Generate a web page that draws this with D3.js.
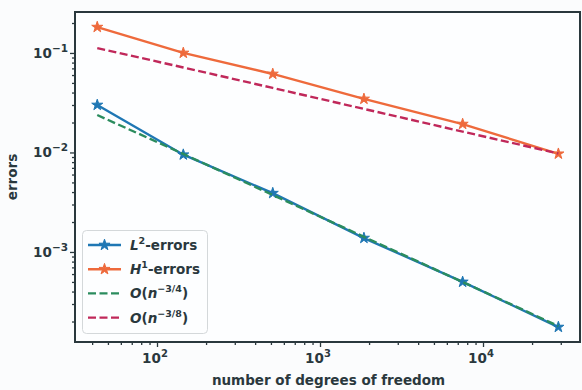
<!DOCTYPE html>
<html>
<head>
<meta charset="utf-8">
<script src="https://cdn.jsdelivr.net/npm/d3@7/dist/d3.min.js"></script>
<style>
  html, body { margin: 0; padding: 0; background: #fbfcfd; }
  svg { display: block; font-family: "DejaVu Sans", sans-serif; }
</style>
</head>
<body>
<svg id="chart" width="582" height="390"></svg>
<script>
// Degrees of freedom for each refinement level
const dofs = [43, 145, 513, 1860, 7500, 29000];

// Measured errors
const l2Errors = [0.030, 0.0095, 0.0039, 0.00138, 0.00050, 0.000176];
const h1Errors = [0.182, 0.100, 0.0615, 0.0345, 0.0193, 0.0097];

// Reference convergence rates
const rateL2 = [0.0238, 0.00966, 0.00374, 0.00142, 0.000499, 0.00018];
const rateH1 = [0.112, 0.0715, 0.0445, 0.0274, 0.0162, 0.00976];

// Tick values and labels
const xTicks = [1e2, 1e3, 1e4];
const xTickExp = ["2", "3", "4"];
const yTicks = [1e-1, 1e-2, 1e-3];
const yTickExp = ["\u22121", "\u22122", "\u22123"];

const series = [
  { name: "L2", values: l2Errors, color: "#1f77b4", dash: null, marker: true },
  { name: "H1", values: h1Errors, color: "#ee6a3c", dash: null, marker: true },
  { name: "r34", values: rateL2, color: "#2b8c5e", dash: "8,3.5", marker: false },
  { name: "r38", values: rateH1, color: "#c0285a", dash: "8,3.5", marker: false }
];

const svg = d3.select("#chart");
const pL = 75, pR = 580, pT = 12, pB = 342;

const x = d3.scaleLog().domain([31.4, 39360]).range([pL, pR]);
const y = d3.scaleLog().domain([0.258, 1.245e-4]).range([pT, pB]);

// plot background
svg.append("rect").attr("x", pL).attr("y", pT)
  .attr("width", pR - pL).attr("height", pB - pT)
  .attr("fill", "#fdfeff");

const axisColor = "#2a383d";

// minor + major ticks along x
const xMinor = [];
for (let e = 1; e <= 4; e++) for (let m = 1; m <= 9; m++) {
  const v = m * Math.pow(10, e);
  if (v >= x.domain()[0] && v <= x.domain()[1]) xMinor.push(v);
}
const xAxis = d3.axisBottom(x).tickValues(xMinor).tickSize(3).tickFormat("");
svg.append("g").attr("transform", `translate(0,${pB})`).call(xAxis)
  .call(g => g.select(".domain").remove())
  .call(g => g.selectAll("line").attr("stroke", axisColor).attr("stroke-width", 1.3)
    .attr("y2", d => xTicks.includes(d) ? 5 : 3));

const yMinor = [];
for (let e = -4; e <= 0; e++) for (let m = 1; m <= 9; m++) {
  const v = m * Math.pow(10, e);
  if (v <= y.domain()[0] && v >= y.domain()[1]) yMinor.push(v);
}
const yAxis = d3.axisLeft(y).tickValues(yMinor).tickSize(3).tickFormat("");
svg.append("g").attr("transform", `translate(${pL},0)`).call(yAxis)
  .call(g => g.select(".domain").remove())
  .call(g => g.selectAll("line").attr("stroke", axisColor).attr("stroke-width", 1.3)
    .attr("x2", d => yTicks.some(t => Math.abs(t - d) / t < 1e-9) ? -5 : -3));

// tick labels with superscript exponents
xTicks.forEach((t, i) => {
  const txt = svg.append("text").attr("x", x(t) - 2).attr("y", 363)
    .attr("text-anchor", "middle").attr("font-size", 13.5).attr("font-weight", "bold")
    .attr("fill", "#2a383d");
  txt.append("tspan").text("10");
  txt.append("tspan").attr("dy", -6).attr("font-size", 10).text(xTickExp[i]);
});
yTicks.forEach((t, i) => {
  const txt = svg.append("text").attr("x", 68).attr("y", y(t) + 5)
    .attr("text-anchor", "end").attr("font-size", 13.5).attr("font-weight", "bold")
    .attr("fill", "#2a383d");
  txt.append("tspan").text("10");
  txt.append("tspan").attr("dy", -6).attr("font-size", 10.5).text(yTickExp[i]);
});

// axis titles
svg.append("text").attr("x", (pL + pR) / 2 + 1).attr("y", 385)
  .attr("text-anchor", "middle").attr("font-size", 13.5).attr("font-weight", "bold")
  .attr("fill", "#2a383d").text("number of degrees of freedom");
svg.append("text").attr("transform", `translate(17,${(pT + pB) / 2}) rotate(-90)`)
  .attr("text-anchor", "middle").attr("font-size", 13.5).attr("font-weight", "bold")
  .attr("fill", "#2a383d").text("errors");

// data lines
const line = d3.line().x((d, i) => x(dofs[i])).y(d => y(d));
const star = d3.symbol().type(d3.symbolStar).size(38);

const plot = svg.append("g");
series.forEach(s => {
  const g = plot.append("g");
  g.append("path").datum(s.values).attr("d", line)
    .attr("fill", "none").attr("stroke", s.color).attr("stroke-width", 2.4)
    .attr("stroke-dasharray", s.dash);
  if (s.marker) {
    g.selectAll("path.m").data(s.values).join("path").attr("class", "m")
      .attr("d", star)
      .attr("transform", (d, i) => `translate(${x(dofs[i])},${y(d)})`)
      .attr("fill", s.color).attr("stroke", s.color).attr("stroke-width", 1);
  }
});

// legend
const lg = svg.append("g");
lg.append("rect").attr("x", 82.5).attr("y", 230.5).attr("width", 125).attr("height", 103)
  .attr("rx", 4).attr("fill", "#fdfeff").attr("fill-opacity", 0.9)
  .attr("stroke", "#d4d8da").attr("stroke-width", 1);
const legendRows = [
  { s: series[0], base: "L", sup: "2", tail: "-errors" },
  { s: series[1], base: "H", sup: "1", tail: "-errors" },
  { s: series[2], base: "O(n", sup: "\u22123/4", tail: ")" },
  { s: series[3], base: "O(n", sup: "\u22123/8", tail: ")" }
];
legendRows.forEach((r, i) => {
  const cy = 245 + i * 24.2;
  lg.append("line").attr("x1", 88).attr("x2", 121).attr("y1", cy).attr("y2", cy)
    .attr("stroke", r.s.color).attr("stroke-width", 2.4)
    .attr("stroke-dasharray", r.s.dash);
  if (r.s.marker) {
    lg.append("path").attr("d", star).attr("transform", `translate(104.5,${cy})`)
      .attr("fill", r.s.color).attr("stroke", r.s.color).attr("stroke-width", 1);
  }
  const t = lg.append("text").attr("x", 130).attr("y", cy + 5)
    .attr("font-size", 13.5).attr("font-weight", "bold").attr("fill", "#2a383d");
  if (r.base === "O(n") {
    t.append("tspan").attr("font-style", "italic").text("O");
    t.append("tspan").text("(");
    t.append("tspan").attr("font-style", "italic").text("n");
  } else {
    t.append("tspan").attr("font-style", "italic").text(r.base);
  }
  t.append("tspan").attr("dy", -6).attr("font-size", 9.5).text(r.sup);
  t.append("tspan").attr("dy", 6).text(r.tail);
});

// frame
svg.append("rect").attr("x", pL).attr("y", pT)
  .attr("width", pR - pL).attr("height", pB - pT)
  .attr("fill", "none").attr("stroke", axisColor).attr("stroke-width", 2);
</script>
</body>
</html>
